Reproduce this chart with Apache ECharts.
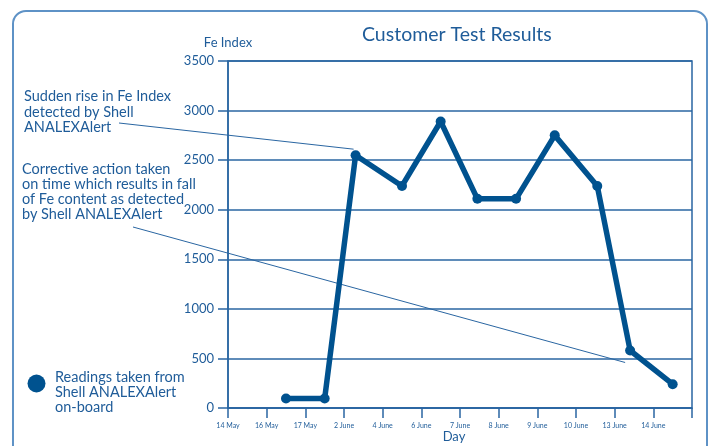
<!DOCTYPE html>
<html>
<head>
<meta charset="utf-8">
<script src="https://cdn.jsdelivr.net/npm/echarts@6/dist/echarts.min.js"></script>
<style>
  html, body { margin: 0; padding: 0; background: #fff; }
  #chart { width: 714px; height: 446px; }
</style>
</head>
<body>
<div id="chart"></div>
<script>
  var dayLabels = ['14 May', '16 May', '17 May', '2 June', '4 June', '6 June', '7 June', '8 June', '9 June', '10 June', '13 June', '14 June'];
  // where each reading sits between the day ticks
  var readingPos = [1.5, 2.5, 3.3, 4.5, 5.5, 6.45, 7.45, 8.45, 9.55, 10.4, 11.5];
  var feIndex = [95, 95, 2550, 2240, 2890, 2110, 2110, 2750, 2240, 580, 240];
  var yTicks = [0, 500, 1000, 1500, 2000, 2500, 3000, 3500];

  var blue = '#00528f';
  var textBlue = '#1f5c99';
  var lineBlue = '#2a66a2';
  var font = 'Lato';

  var seriesData = readingPos.map(function (x, i) { return [x, feIndex[i]]; });

  var note1 = 'Sudden rise in Fe Index\ndetected by Shell\nANALEXAlert';
  var note2 = 'Corrective action taken\non time which results in fall\nof Fe content as detected\nby Shell ANALEXAlert';
  var legendText = 'Readings taken from\nShell ANALEXAlert\non-board';

  var chart = echarts.init(document.getElementById('chart'));
  var option = {
    animation: false,
    backgroundColor: '#fff',
    textStyle: { fontFamily: font },
    title: {
      text: 'Customer Test Results',
      left: 357,
      top: 20,
      textStyle: { color: textBlue, fontSize: 19.5, fontWeight: 'normal', fontFamily: font }
    },
    grid: {
      left: 228, right: 22, top: 61, bottom: 38,
      outerBoundsMode: 'none',
      show: true, borderColor: lineBlue, borderWidth: 1.5, backgroundColor: 'transparent'
    },
    xAxis: {
      type: 'value',
      min: 0, max: 12, interval: 1,
      name: 'Day',
      nameLocation: 'middle',
      nameGap: 22,
      nameMoveOverlap: false,
      nameTextStyle: { color: textBlue, fontSize: 13, padding: [0, 12, 0, 0] },
      axisLine: { show: true, onZero: false, lineStyle: { color: lineBlue, width: 1.5 } },
      axisTick: { show: true, length: 10, lineStyle: { color: lineBlue, width: 1.5 } },
      splitLine: { show: false },
      axisLabel: {
        color: textBlue, fontSize: 7, margin: 14,
        formatter: function (v) { return dayLabels[v] || ''; }
      }
    },
    yAxis: {
      type: 'value',
      min: yTicks[0], max: yTicks[yTicks.length - 1], interval: 500,
      name: 'Fe Index',
      nameLocation: 'end',
      nameGap: 12,
      nameTextStyle: { color: textBlue, fontSize: 13 },
      axisLine: { show: true, lineStyle: { color: lineBlue, width: 1.5 } },
      axisTick: { show: true, length: 10, lineStyle: { color: lineBlue, width: 1.5 } },
      splitLine: { show: true, lineStyle: { color: lineBlue, width: 1.5 } },
      axisLabel: {
        color: textBlue, fontSize: 13, margin: 14,
        formatter: function (v) { return String(v); }
      }
    },
    series: [{
      type: 'line',
      data: seriesData,
      symbol: 'circle',
      symbolSize: 10,
      lineStyle: { color: blue, width: 5.5 },
      itemStyle: { color: blue }
    }],
    graphic: [
      {
        type: 'rect',
        shape: { x: 13, y: 11, width: 694, height: 460, r: 13 },
        style: { fill: 'none', stroke: '#5e92c6', lineWidth: 2 },
        silent: true
      },
      {
        type: 'circle',
        shape: { cx: 36.5, cy: 383.5, r: 9 },
        style: { fill: blue }
      },
      {
        type: 'text', x: 55, y: 370,
        style: { text: legendText, fill: textBlue, font: '14.5px ' + font, lineHeight: 15 }
      },
      {
        type: 'text', x: 24, y: 89,
        style: { text: note1, fill: textBlue, font: '14.5px ' + font, lineHeight: 15.5 }
      },
      {
        type: 'text', x: 22, y: 162,
        style: { text: note2, fill: textBlue, font: '14.5px ' + font, lineHeight: 15 }
      }
    ]
  };
  chart.setOption(option);

  // leader lines from the notes to the readings they talk about
  var rise = chart.convertToPixel({ gridIndex: 0 }, seriesData[2]);
  var fall = chart.convertToPixel({ gridIndex: 0 }, seriesData[9]);
  chart.setOption({
    graphic: option.graphic.concat([
      {
        type: 'line',
        shape: { x1: 119, y1: 123, x2: rise[0] - 2, y2: rise[1] - 6 },
        style: { stroke: lineBlue, lineWidth: 1 }
      },
      {
        type: 'line',
        shape: { x1: 133, y1: 227, x2: fall[0] - 5, y2: fall[1] + 12 },
        style: { stroke: lineBlue, lineWidth: 1 }
      }
    ])
  }, { replaceMerge: ['graphic'] });
</script>
</body>
</html>
